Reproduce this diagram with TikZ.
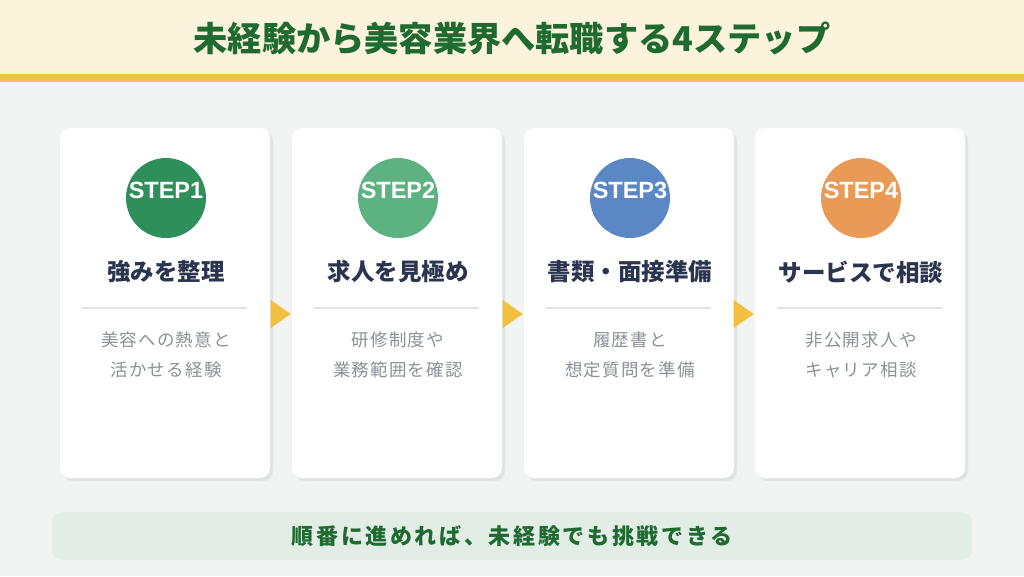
\documentclass[tikz,border=0pt]{standalone}
\usepackage{fontspec}
\usetikzlibrary{shapes.geometric}
\setmainfont{Noto Sans CJK JP}
\newfontfamily\steplat{Liberation Sans}
\definecolor{bgc}{HTML}{F2F4F3}
\definecolor{headc}{HTML}{FBF3DC}
\definecolor{goldc}{HTML}{EEC24E}
\definecolor{titlec}{HTML}{1F6A31}
\definecolor{shadowc}{HTML}{DFE3E1}
\definecolor{cOne}{HTML}{2F8F5B}
\definecolor{cTwo}{HTML}{5DB282}
\definecolor{cThree}{HTML}{5B87C4}
\definecolor{cFour}{HTML}{E99A57}
\definecolor{cardtc}{HTML}{2C3550}
\definecolor{divc}{HTML}{E0E4E3}
\definecolor{descc}{HTML}{8C9198}
\definecolor{arrowc}{HTML}{F0C03E}
\definecolor{barc}{HTML}{E2EEE5}
\tikzset{
  card/.style={fill=white, rounded corners=10pt, minimum width=210pt, minimum height=350pt, inner sep=0pt},
  cardshadow/.style={fill=shadowc, rounded corners=10pt, minimum width=210pt, minimum height=350pt, inner sep=0pt},
  stepcircle/.style={circle, minimum size=80pt, inner sep=0pt},
  steplabel/.style={text=white, font=\steplat\fontsize{23.5}{23.5}\selectfont\bfseries},
  cardtitle/.style={text=cardtc, font=\fontsize{23.5}{23.5}\selectfont\bfseries},
  desc/.style={text=descc, align=center, font=\fontsize{17.5}{30}\selectfont\addfontfeature{LetterSpace=7}},
  arrowtri/.style={fill=arrowc, isosceles triangle, isosceles triangle apex angle=70, minimum height=14pt, minimum width=28pt, inner sep=0pt},
}
\begin{document}
\begin{tikzpicture}[x=1pt,y=-1pt]
\useasboundingbox (0,0) rectangle (1024,576);
\fill[bgc] (0,0) rectangle (1024,576);
\fill[headc] (0,0) rectangle (1024,74);
\fill[goldc] (0,74) rectangle (1024,82);
\node[text=titlec, font=\fontsize{34.2}{34.2}\selectfont\bfseries] (title) at (512,38) {未経験から美容業界へ転職する4ステップ};
% cards
\foreach \i/\cx/\col/\st/\ttl/\da/\db in {
  1/165/cOne/STEP1/強みを整理/美容への熱意と/活かせる経験,
  2/397/cTwo/STEP2/求人を見極め/研修制度や/業務範囲を確認,
  3/629/cThree/STEP3/書類・面接準備/履歴書と/想定質問を準備,
  4/860/cFour/STEP4/サービスで相談/非公開求人や/キャリア相談}{
  \node[cardshadow] (sh\i) at (\cx+3,306) {};
  \node[card] (card\i) at (\cx,303) {};
  \node[stepcircle, fill=\col] (circ\i) at (\cx+1,198) {};
  \node[steplabel] (st\i) at (\cx+1,190) {\st};
  \node[cardtitle] (ct\i) at (\cx+1,272) {\ttl};
  \coordinate (dl\i) at (\cx-83,308);
  \coordinate (dr\i) at (\cx+82,308);
  \draw[divc, line width=1.2pt] (dl\i) -- (dr\i);
  \node[desc] (d\i) at (\cx+1,355) {\da\\\db};
}
\node[arrowtri] (a1) at (278,314) {};
\node[arrowtri] (a2) at (510,314) {};
\node[arrowtri] (a3) at (741,314) {};
% bottom bar
\node[fill=barc, rounded corners=10pt, minimum width=920pt, minimum height=48pt, inner sep=0pt] (bar) at (512,536) {};
\node[text=titlec, font=\fontsize{22}{22}\selectfont\bfseries\addfontfeature{LetterSpace=12}] (bt) at (512,536) {順番に進めれば、未経験でも挑戦できる};
\end{tikzpicture}
\end{document}
